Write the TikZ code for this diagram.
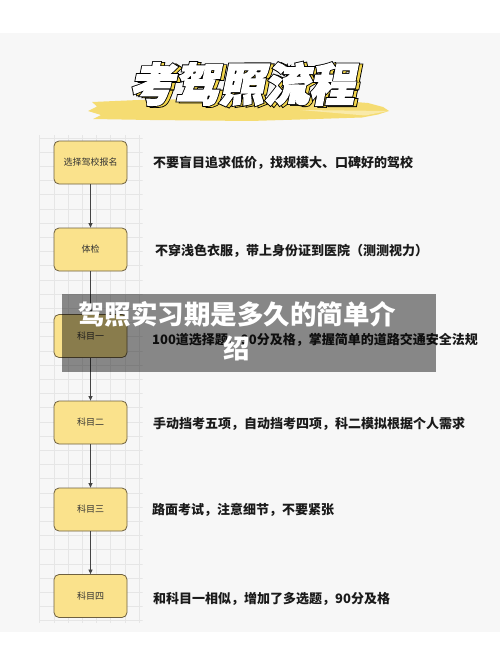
\documentclass[tikz,border=0pt]{standalone}
\usepackage{fontspec}
\newfontfamily\cjk{Noto Sans CJK SC}
\newfontfamily\cjkout{Noto Sans CJK SC}[BoldFeatures={FakeBold=7}]
\newfontfamily\cjkfill{Noto Sans CJK SC}[BoldFeatures={FakeBold=3}]
\usetikzlibrary{arrows.meta}
\definecolor{boxfill}{HTML}{FAE28C}
\definecolor{boxdraw}{HTML}{6E6040}
\definecolor{brush}{HTML}{F5DC72}
\definecolor{gridc}{HTML}{E6E6E6}
\definecolor{descc}{HTML}{1A1A1A}
\definecolor{arrc}{HTML}{444444}
\definecolor{shadowy}{HTML}{F2D54A}
\tikzset{
  stepbox/.style={rectangle, rounded corners=5pt, draw=boxdraw, fill=boxfill, line width=0.8pt,
    minimum width=73pt, minimum height=43pt, inner sep=0pt,
    font=\cjk\fontsize{9}{11}\selectfont, text=black!80},
  desc/.style={anchor=west, inner sep=0pt, font=\cjk\bfseries\fontsize{13}{15}\selectfont, text=descc},
  arr/.style={draw=arrc, line width=0.7pt, -{Triangle[length=4.5pt,width=4pt]}},
  titleout/.style={inner sep=0pt, font=\cjkout\bfseries\fontsize{45}{45}\selectfont, transform shape, text=black},
  titlefill/.style={inner sep=0pt, font=\cjkfill\bfseries\fontsize{45}{45}\selectfont, transform shape},
}
\begin{document}
\begin{tikzpicture}[x=1pt,y=-1pt]
\useasboundingbox (0,0) rectangle (500,666);
\fill[white] (0,0) rectangle (500,666);
\fill[black!3] (0,33) rectangle (500,632);
% grid
\begin{scope}
  \clip (39,135) rectangle (142.5,623);
  \foreach \i in {0,...,8} \draw[gridc, line width=0.5pt] ({39.7+14.2*\i},135) -- ({39.7+14.2*\i},623);
  \foreach \j in {0,...,35} \draw[gridc, line width=0.5pt] (39,{137.8+14.2*\j}) -- (142.5,{137.8+14.2*\j});
\end{scope}
% brush stroke
\fill[brush] (92,102) -- (150,99.5) -- (250,99) -- (330,100) -- (368,103) -- (383,107) -- (389,111)
  -- (378,114.5) -- (362,117.5) -- (300,119.5) -- (250,121) -- (150,120) -- (93,119) -- (101,115)
  -- (88,111) -- (97,106.5) -- cycle;
\fill[brush!60] (300,110) -- (388,111) -- (365,115.5) -- cycle;
% title
\begin{scope}[shift={(245,84)}, xslant=0.2]
  \node[titleout] (tsh) at (3.5,1) {考驾照流程};
  \node[titlefill, text=shadowy] (tsy) at (3.5,1) {考驾照流程};
  \node[titleout] (tout) at (0,0) {考驾照流程};
  \node[titlefill, text=white] (title) at (0,0) {考驾照流程};
\end{scope}
% boxes
\node[stepbox] (b1) at (90.5,162.5) {选择驾校报名};
\node[stepbox] (b2) at (90.5,249.5) {体检};
\node[stepbox] (b3) at (90.5,336) {科目一};
\node[stepbox] (b4) at (90.5,422.5) {科目二};
\node[stepbox] (b5) at (90.5,509.5) {科目三};
\node[stepbox] (b6) at (90.5,596) {科目四};
\draw[arr] (b1.south) -- (b2.north);
\draw[arr] (b2.south) -- (b3.north);
\draw[arr] (b3.south) -- (b4.north);
\draw[arr] (b4.south) -- (b5.north);
\draw[arr] (b5.south) -- (b6.north);
% descriptions
\node[desc] (d1) at (153,163) {不要盲目追求低价，找规模大、口碑好的驾校};
\node[desc] (d2) at (155,250.5) {不穿浅色衣服，带上身份证到医院（测测视力）};
\node[desc] (d3) at (152,340) {100道选择题，90分及格，掌握简单的道路交通安全法规};
\node[desc] (d4) at (153,424) {手动挡考五项，自动挡考四项，科二模拟根据个人需求};
\node[desc] (d5) at (152,510) {路面考试，注意细节，不要紧张};
\node[desc] (d6) at (153,599) {和科目一相似，增加了多选题，90分及格};
% overlay
\fill[black, opacity=0.45] (62,294) rectangle (436,372);
\node[align=center, text=white, inner sep=0pt, font=\cjk\bfseries\fontsize{26.5}{34}\selectfont] (ov) at (237,331) {驾照实习期是多久的简单介\\绍};
\end{tikzpicture}
\end{document}
